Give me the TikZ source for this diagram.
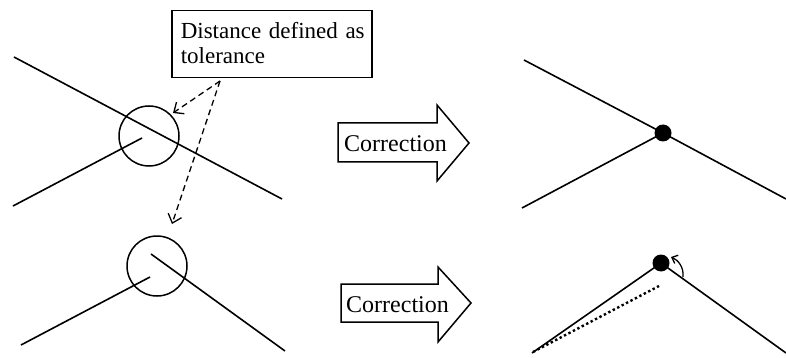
\documentclass[tikz,border=0pt]{standalone}
\usepackage{fontspec}
\setmainfont{Liberation Serif}
\usetikzlibrary{arrows.meta}
\begin{document}
\begin{tikzpicture}[x=1pt,y=-1pt,
  edge/.style={line width=1.6pt},
  ring/.style={circle,draw,line width=1.5pt,minimum size=60pt,inner sep=0pt},
  joint/.style={circle,fill=black,minimum size=17pt,inner sep=0pt},
  hint/.style={line width=1.3pt,dash pattern=on 6pt off 4pt,
               -{Straight Barb[length=8pt,width=14pt,line width=1.3pt]}},
  fatarrow/.style={draw,line width=1.5pt,line join=miter,fill=white},
  lbl/.style={font=\fontsize{24}{26}\selectfont,inner sep=0pt}]
\useasboundingbox (0,0) rectangle (786,358);

% ---- left: lines near a vertex, with tolerance circles
\coordinate (a1) at (14,57);   \coordinate (a2) at (282,199);
\coordinate (b1) at (13,206);  \coordinate (b2) at (142,138);
\draw[edge] (a1) -- (a2);
\draw[edge] (b1) -- (b2);
\node[ring] (tol1) at (149,136) {};

\coordinate (c1) at (21,345);  \coordinate (c2) at (150,277);
\coordinate (d1) at (151,254); \coordinate (d2) at (285,351);
\draw[edge] (c1) -- (c2);
\draw[edge] (d1) -- (d2);
\node[ring] (tol2) at (157,266) {};

% ---- label box and dashed pointers
\node[draw,line width=1.5pt,anchor=north west,minimum width=200pt,minimum height=67pt,
      text width=188pt,align=left,inner xsep=6pt,inner ysep=0pt,
      font=\fontsize{23}{25}\selectfont] (box) at (171,10)
      {\hspace*{3pt}Distance defined as\\\hspace*{3pt}tolerance\rule[-3pt]{0pt}{3pt}};
\coordinate (src) at (220,81);
\coordinate (t1) at (173,113);
\coordinate (t2) at (172,224);
\draw[hint] (src) -- (t1);
\draw[hint] (src) -- (t2);

% ---- correction arrows
\draw[fatarrow] (338,123) -- (437,123) -- (437,105) -- (469,143)
  -- (437,181) -- (437,162) -- (338,162) -- cycle;
\node[lbl,anchor=base west] (corr1) at (344,152) {Correction};

\draw[fatarrow] (341,284) -- (438,284) -- (438,267) -- (471,303)
  -- (438,342) -- (438,322) -- (341,322) -- cycle;
\node[lbl,anchor=base west] (corr2) at (346,312) {Correction};

% ---- right top: lines joined at one point
\node[joint] (p1) at (663,133) {};
\coordinate (e1) at (524,60);  \coordinate (e2) at (786,199);
\coordinate (f1) at (522,208);
\draw[edge] (e1) -- (p1.center) -- (e2);
\draw[edge] (f1) -- (p1.center);

% ---- right bottom: endpoint snapped, old segment dotted
\node[joint] (p2) at (661,263) {};
\coordinate (g1) at (532,353); \coordinate (g2) at (786,353);
\coordinate (h1) at (533,352); \coordinate (h2) at (659,286);
\draw[edge] (g1) -- (p2.center) -- (g2);
\draw[line width=2.4pt,dash pattern=on 2.4pt off 2.6pt] (h1) -- (h2);
\coordinate (m1) at (683,277);
\coordinate (m2) at (671,257);
\draw[line width=1.3pt,-{Straight Barb[length=5pt,width=9pt,line width=1.3pt]}]
  (m1) .. controls (684,267) and (678,260) .. (m2);
\end{tikzpicture}
\end{document}
